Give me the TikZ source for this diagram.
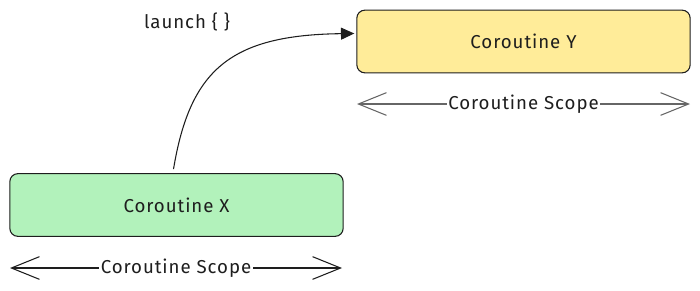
\documentclass[tikz,border=0pt]{standalone}
\usepackage{fontspec}
\setmainfont{Fira Sans}[LetterSpace=5]
\usepackage{tikz}
\usetikzlibrary{arrows.meta,calc,positioning}
\definecolor{xgreen}{HTML}{B2F2BB}
\definecolor{yyellow}{HTML}{FFEC99}
\definecolor{ink}{HTML}{1E1E1E}

\begin{document}
\begin{tikzpicture}[x=0.75pt,y=-0.75pt,
  every node/.style={text=ink,font=\fontsize{14}{16}\selectfont},
  corobox/.style={draw=ink,rounded corners=6pt,line width=0.8pt,minimum width=250pt,minimum height=47pt},
  scopearr/.style={{Straight Barb[length=21pt,width=17pt]}-{Straight Barb[length=21pt,width=17pt]},line width=0.8pt},
  scopelbl/.style={fill=white,inner xsep=1pt,inner ysep=0pt}]
\useasboundingbox (0,0) rectangle (700,290);

\node (cx) at (176.5,205) [corobox,fill=xgreen] {Coroutine X};
\node (cy) at (523.5,41.5) [corobox,fill=yyellow] {Coroutine Y};

% scopes under each box
\coordinate (sx1) at (10,268);
\coordinate (sx2) at (342,268);
\coordinate (sy1) at (357,104);
\coordinate (sy2) at (690,104);
\draw[scopearr,draw=ink] (sx1) -- (sx2) node[midway,scopelbl] (sxl) {Coroutine Scope};
\draw[scopearr,draw=black!60] (sy1) -- (sy2) node[midway,scopelbl] (syl) {Coroutine Scope};

% launch from X into Y
\draw[-{Triangle[length=10pt,width=9pt]},draw=ink,line width=0.8pt]
  ($(cx.north)+(-3,-4)$) .. controls (190,70) and (230,35) .. ($(cy.west)+(-2,-8)$);
\node (lnch) at (187,22) {launch \{ \}};
\end{tikzpicture}
\end{document}
